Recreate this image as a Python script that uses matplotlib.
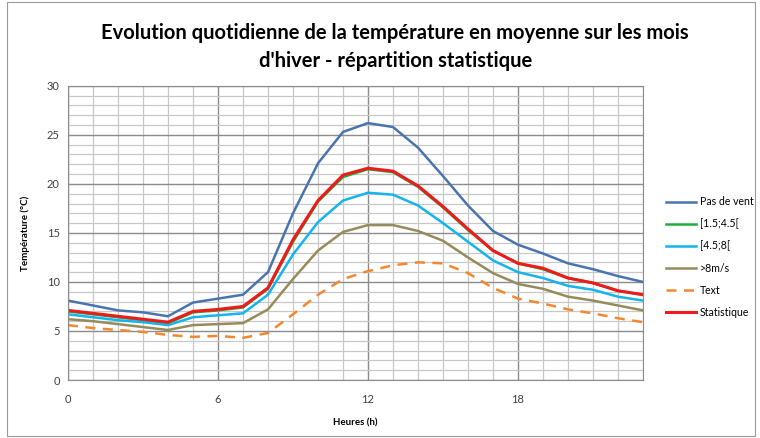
import numpy as np
import matplotlib
matplotlib.use('Agg')
import matplotlib.pyplot as plt
from matplotlib.ticker import MultipleLocator

plt.rcParams['font.family'] = ['Lato', 'DejaVu Sans']

hours = list(range(24))
pas_de_vent = [8.1, 7.6, 7.1, 6.9, 6.5, 7.9, 8.3, 8.7, 11.0, 17.0, 22.1, 25.3,
               26.2, 25.8, 23.7, 20.8, 17.8, 15.2, 13.8, 12.9, 11.9, 11.3, 10.6, 10.0]
v_1_5_4_5 = [7.0, 6.7, 6.4, 6.1, 5.8, 6.9, 7.1, 7.4, 9.3, 14.1, 18.2, 20.7,
             21.5, 21.2, 19.7, 17.6, 15.3, 13.2, 11.9, 11.3, 10.4, 9.9, 9.1, 8.7]
v_4_5_8 = [6.7, 6.4, 6.1, 5.9, 5.6, 6.4, 6.6, 6.8, 8.7, 12.8, 16.1, 18.3,
           19.1, 18.9, 17.8, 16.0, 14.1, 12.2, 11.0, 10.4, 9.6, 9.2, 8.5, 8.1]
v_sup_8 = [6.2, 6.0, 5.7, 5.4, 5.1, 5.6, 5.7, 5.8, 7.2, 10.3, 13.2, 15.1,
           15.8, 15.8, 15.2, 14.2, 12.5, 10.9, 9.8, 9.3, 8.5, 8.1, 7.6, 7.1]
text_ext = [5.6, 5.3, 5.1, 4.9, 4.6, 4.4, 4.5, 4.3, 4.8, 6.7, 8.7, 10.3,
            11.1, 11.7, 12.0, 11.9, 10.9, 9.4, 8.3, 7.8, 7.2, 6.8, 6.3, 5.9]
statistique = [7.1, 6.8, 6.5, 6.2, 5.9, 7.0, 7.2, 7.5, 9.4, 14.3, 18.3, 20.9,
               21.6, 21.3, 19.8, 17.7, 15.4, 13.2, 11.9, 11.4, 10.4, 9.9, 9.1, 8.7]

fig = plt.figure(figsize=(7.6, 4.38), dpi=100)
ax = fig.add_axes([0.0895, 0.1324, 0.7565, 0.6716])

ax.plot(hours, pas_de_vent, color='#4a74b0', lw=1.8, label='Pas de vent')
ax.plot(hours, v_1_5_4_5, color='#1fae3a', lw=1.8, label='[1.5;4.5[')
ax.plot(hours, v_4_5_8, color='#14b4ee', lw=1.8, label='[4.5;8[')
ax.plot(hours, v_sup_8, color='#968b5a', lw=1.8, label='>8m/s')
ax.plot(hours, text_ext, color='#f4872f', lw=1.8, ls=(0, (4, 3)), label='Text')
ax.plot(hours, statistique, color='#ee1b1b', lw=2.2, label='Statistique')

ax.set_xlim(0, 23)
ax.set_ylim(0, 30)
ax.xaxis.set_major_locator(MultipleLocator(6))
ax.xaxis.set_minor_locator(MultipleLocator(1))
ax.yaxis.set_major_locator(MultipleLocator(5))
ax.yaxis.set_minor_locator(MultipleLocator(1))
ax.grid(which='major', color='#8c8c8c', lw=1.0)
ax.grid(which='minor', color='#c8c8c8', lw=0.9)
ax.set_axisbelow(True)
for s in ax.spines.values():
    s.set_color('#8c8c8c')
ax.tick_params(which='both', length=0, labelsize=8, colors='#404040', pad=6)
ax.tick_params(axis='x', pad=10)

ax.set_xlabel('Heures (h)', fontsize=7, fontweight='bold', labelpad=10)
ax.set_ylabel('Température (°C)', fontsize=7, fontweight='bold', labelpad=12)

fig.text(0.52, 0.892, "Evolution quotidienne de la température en moyenne sur les mois\nd'hiver - répartition statistique",
         ha='center', va='center', fontsize=14.5, fontweight='bold', linespacing=1.5)

leg = ax.legend(loc='center left', bbox_to_anchor=(1.04, 0.418), frameon=False,
                fontsize=7.6, handlelength=2.8, labelspacing=1.05, handletextpad=0.4,
                borderpad=0, borderaxespad=0)

border = plt.Rectangle((0.009, 0.005), 0.985, 0.99, transform=fig.transFigure,
                       fill=False, ec='#9a9a9a', lw=0.8)
fig.patches.append(border)

fig.savefig('out.png', dpi=100)
